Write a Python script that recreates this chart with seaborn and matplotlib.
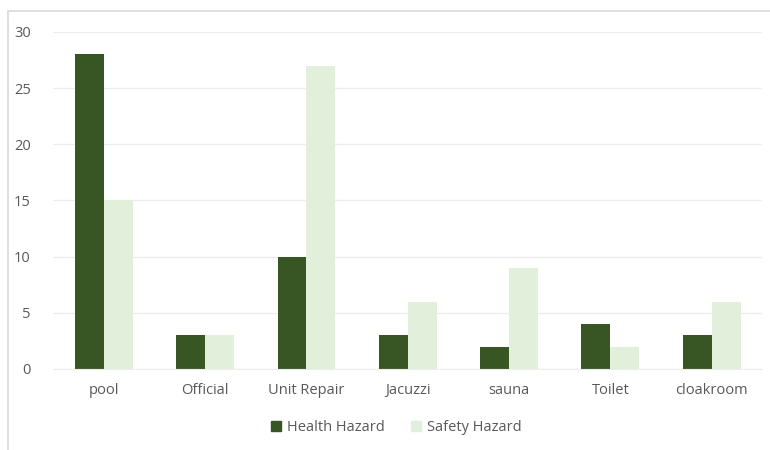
import pandas as pd
import seaborn as sns
import matplotlib.pyplot as plt
from matplotlib.patches import Rectangle

categories = ["pool", "Official", "Unit Repair", "Jacuzzi", "sauna", "Toilet", "cloakroom"]
health_hazard = [28, 3, 10, 3, 2, 4, 3]
safety_hazard = [15, 3, 27, 6, 9, 2, 6]
series_names = ["Health Hazard", "Safety Hazard"]
colors = ["#375623", "#E2EFDA"]

df = pd.DataFrame({
    "category": categories * 2,
    "value": health_hazard + safety_hazard,
    "series": [series_names[0]] * len(categories) + [series_names[1]] * len(categories),
})

sns.set_style("white")
plt.rcParams["font.family"] = ["Open Sans", "DejaVu Sans"]
text_color = "#595959"

fig = plt.figure(figsize=(7.7, 4.5), dpi=100)
ax = fig.add_axes([0.069, 0.18, 0.921, 0.749])

sns.barplot(data=df, x="category", y="value", hue="series", palette=colors,
            width=0.57, gap=0, ax=ax, legend=False, saturation=1, linewidth=0)

ax.set_ylim(0, 30)
ax.set_yticks(range(0, 31, 5))
ax.set_xlim(-0.5, len(categories) - 0.5)
ax.yaxis.grid(True, color="#EDEDED", linewidth=1)
ax.set_axisbelow(True)
for s in ["top", "right", "left"]:
    ax.spines[s].set_visible(False)
ax.spines["bottom"].set_color("#EDEDED")
ax.set_xlabel("")
ax.set_ylabel("")
ax.tick_params(axis="both", colors=text_color, labelsize=10.5, length=0)
ax.tick_params(axis="x", pad=10)
ax.tick_params(axis="y", pad=16)

handles = [Rectangle((0, 0), 1, 1, color=c) for c in colors]
fig.legend(handles, series_names, loc="center", bbox_to_anchor=(0.515, 0.05),
           ncol=2, frameon=False, fontsize=10.5, labelcolor=text_color,
           handlelength=0.7, handleheight=0.7, handletextpad=0.4, columnspacing=1.8)

# light chart border, open on the right and bottom like the source image
fig.patches.append(Rectangle((8 / 770, -0.1), 1.2, 1.1 - 11 / 450,
                             transform=fig.transFigure, fill=False,
                             edgecolor="#D9D9D9", linewidth=1.2))

fig.savefig("out.png", dpi=100)
